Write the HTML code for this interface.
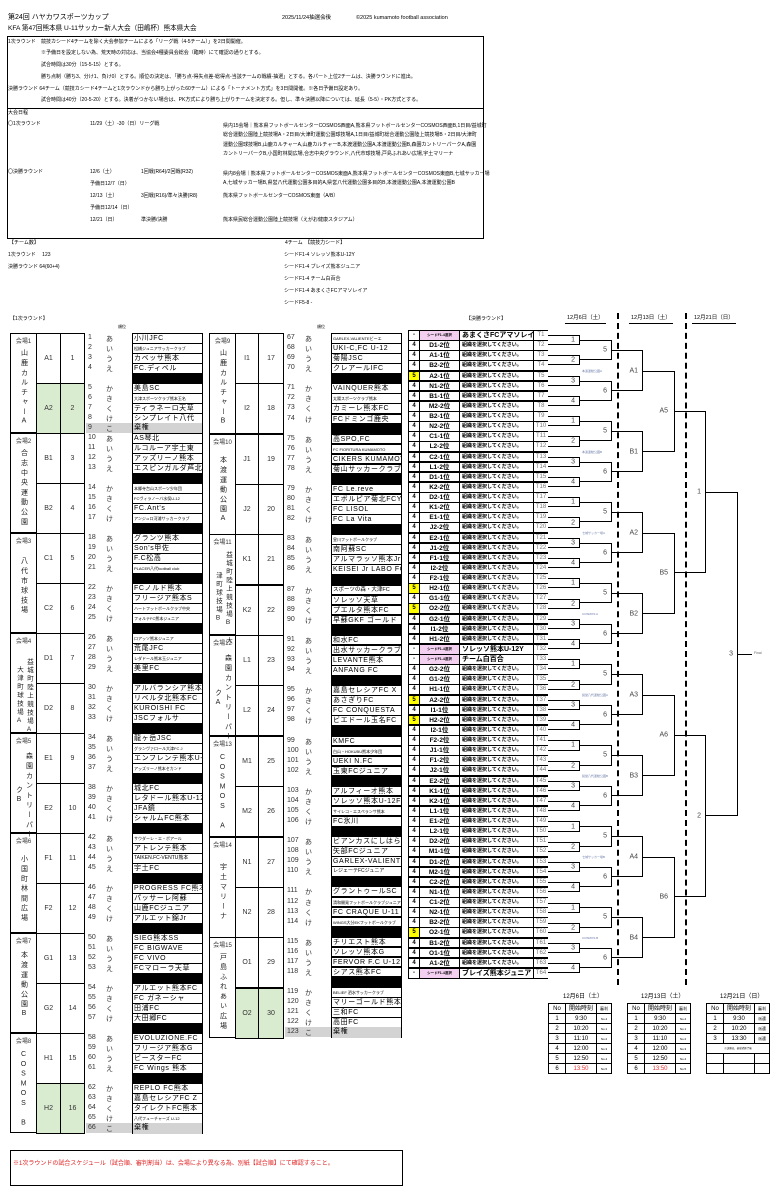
<!DOCTYPE html>
<html><head><meta charset="utf-8">
<style>
*{margin:0;padding:0;box-sizing:border-box}
body{width:782px;height:1197px;position:relative;background:#fff;font-family:"Liberation Sans","Noto Sans CJK JP",sans-serif;color:#000;overflow:hidden}
.a{position:absolute;white-space:nowrap;line-height:1}
.f5{font-size:5px}
.bx{position:absolute;border:1px solid #000}
.col{position:absolute;top:333px;width:205px}
.col>div{position:relative;height:10px}
.c2>div{height:10.07px}
.col b{position:absolute;left:88px;top:1px;font-size:7px;font-weight:normal;color:#333}
.col i{position:absolute;left:106px;top:1px;font-size:7px;font-style:normal;color:#333}
.col span{position:absolute;left:132px;width:71px;top:0;height:10.5px;border:1px solid #000;font-size:7px;line-height:9px;padding-left:1px;white-space:nowrap;overflow:hidden;letter-spacing:.6px;background:#fff}
.col span.s{font-size:4px;letter-spacing:0}
.col div.k span{background:#000}
.col div.g{background:linear-gradient(90deg,transparent 86px,#d3d3d3 86px,#d3d3d3 203px,transparent 203px)}
.col div.g span{background:#d3d3d3;border-top:none;border-bottom:none}
.v{position:absolute;border:1px solid #000;width:27px;text-align:center}
.v .h{font-size:6px;margin-top:2px;color:#333}
.v .n{writing-mode:vertical-rl;text-orientation:upright;font-size:7px;letter-spacing:2.8px;margin:4px auto 0;color:#222}
.gp{position:absolute;border:1px solid #000;display:flex;align-items:center;justify-content:center;font-size:7px;color:#333}
.gr{background:#d9ecd0}
.tt{position:absolute;top:330px;left:408px;width:141px}
.tt>div{position:relative;height:10.13px}
.tt b,.tt u,.tt s,.tt em{position:absolute;top:0;height:10.63px;border:1px solid #000;text-decoration:none;font-style:normal;text-align:center;white-space:nowrap;overflow:hidden}
.tt b{left:0;width:12px;font-size:6px;line-height:9px}
.tt b.y{background:#ffff00}
.tt u{left:11px;width:41px;font-size:6.5px;line-height:9px;font-weight:bold}
.tt u.p{background:#f3cff0;font-size:3.5px}
.tt s{left:51px;width:75px;font-size:5px;line-height:9px;font-weight:bold;text-align:left;padding-left:2px}
.tt s.n{font-size:7px}
.tt em{left:125px;width:15px;font-size:6px;line-height:9px;color:#777;border-right:none}
.bc{position:absolute;top:330px;height:648.3px;display:flex;flex-direction:column}
.bc>div{flex:1;position:relative}
.bc>div>i{position:absolute;left:0;right:0;top:25%;height:50%;border:1px solid #000;border-left:none;font-style:normal}
.bc>div>i>q{position:absolute;right:4px;top:50%;transform:translateY(-50%);font-size:7px;color:#444}
.bc>div>i>q:before,.bc>div>i>q:after{content:""}
.vs{position:absolute;left:-30px;top:50%;font-size:3px;color:#6a7aa8;transform:translateY(-50%)}
.dash{position:absolute;top:313px;height:672px;border-left:2px dashed #000}
table{border-collapse:collapse;position:absolute;font-size:6px}
td{border:1px solid #000;height:10px;text-align:center;padding:0;line-height:8px}
</style></head><body>

<!-- header -->
<div class="a" style="left:8px;top:14px;font-size:7px">第24回 ハヤカワスポーツカップ</div>
<div class="a" style="left:282px;top:16px;font-size:5.5px">2025/11/24抽選会後</div>
<div class="a" style="left:356px;top:16px;font-size:5.5px">©2025 kumamoto football association</div>
<div class="a" style="left:8px;top:26px;font-size:6.6px">KFA 第47回熊本県 U-11サッカー新人大会（田嶋杯）熊本県大会</div>

<div class="bx" style="left:7px;top:36px;width:477px;height:73px"></div>
<div class="bx" style="left:7px;top:108px;width:477px;height:131px"></div>
<div class="a f5" style="left:8px;top:39.5px">1次ラウンド</div>
<div class="a f5" style="left:41px;top:39.5px">競技カシード4チームを除く大会参加チームによる「リーグ戦（4-5チーム）」を2日間開催。</div>
<div class="a f5" style="left:41px;top:51px">※予備日を設定しない為、荒天時の対応は、当協会4種委員会総会（臨時）にて確認の通りとする。</div>
<div class="a f5" style="left:41px;top:62.5px">試合時間は30分（15-5-15）とする。</div>
<div class="a f5" style="left:41px;top:74.5px">勝ち点制（勝ち3、分け1、負け0）とする。順位の決定は、「勝ち点-得失点差-総得点-当該チームの戦績-抽選」とする。各パート上位2チームは、決勝ラウンドに進出。</div>
<div class="a f5" style="left:8px;top:86.5px">決勝ラウンド 64チーム（競技カシード4チームと1次ラウンドから勝ち上がった60チーム）による「トーナメント方式」を3日間開催。※各日予備日設定あり。</div>
<div class="a f5" style="left:41px;top:98px">試合時間は40分（20-5-20）とする。決着がつかない場合は、PK方式により勝ち上がりチームを決定する。但し、準々決勝以降については、延長（5-5）・PK方式とする。</div>

<div class="a f5" style="left:8px;top:110.5px">大会日程</div>
<div class="a f5" style="left:8px;top:122px">〇1次ラウンド</div>
<div class="a f5" style="left:90px;top:122px">11/29（土）-30（日）リーグ戦</div>
<div class="a f5" style="left:223px;top:122px;line-height:9.4px">県内15会場｜熊本県フットボールセンターCOSMOS西面A,熊本県フットボールセンターCOSMOS西面B,1日目/益城町<br>総合運動公園陸上競技場A・2日目/大津町運動公園球技場A,1日目/益城町総合運動公園陸上競技場B・2日目/大津町<br>運動公園球技場B,山鹿カルチャーA,山鹿カルチャーB,本渡運動公園A,本渡運動公園B,森園カントリーパークA,森園<br>カントリーパークB,小国町林間広場,合志中央グラウンド,八代市球技場,戸島ふれあい広場,宇土マリーナ</div>
<div class="a f5" style="left:8px;top:170px">〇決勝ラウンド</div>
<div class="a f5" style="left:90px;top:170px">12/6（土）</div>
<div class="a f5" style="left:141px;top:170px">1回戦(R64)/2回戦(R32)</div>
<div class="a f5" style="left:223px;top:170px;line-height:9.4px">県内8会場｜熊本県フットボールセンターCOSMOS東面A,熊本県フットボールセンターCOSMOS東面B,七城サッカー場<br>A,七城サッカー場B,県営八代運動公園多目的A,県営八代運動公園多目的B,本渡運動公園A,本渡運動公園B</div>
<div class="a f5" style="left:90px;top:182px">予備日12/7（日）</div>
<div class="a f5" style="left:90px;top:194px">12/13（土）</div>
<div class="a f5" style="left:141px;top:194px">3回戦(R16)/準々決勝(R8)</div>
<div class="a f5" style="left:223px;top:194px">熊本県フットボールセンターCOSMOS東面（A/B）</div>
<div class="a f5" style="left:90px;top:206px">予備日12/14（日）</div>
<div class="a f5" style="left:90px;top:218px">12/21（日）</div>
<div class="a f5" style="left:141px;top:218px">準決勝/決勝</div>
<div class="a f5" style="left:223px;top:218px">熊本県民総合運動公園陸上競技場（えがお健康スタジアム）</div>

<div class="a f5" style="left:9px;top:241px">【チーム数】</div>
<div class="a f5" style="left:8px;top:253px">1次ラウンド　 123</div>
<div class="a f5" style="left:8px;top:265px">決勝ラウンド 64(60+4)</div>
<div class="a f5" style="left:285px;top:241px">4チーム　【競技力シード】</div>
<div class="a f5" style="left:284px;top:253px">シードF1-4 ソレッソ熊本U-12Y</div>
<div class="a f5" style="left:284px;top:265px">シードF1-4 ブレイズ熊本ジュニア</div>
<div class="a f5" style="left:284px;top:277px">シードF1-4 チーム白百合</div>
<div class="a f5" style="left:284px;top:289px">シードF1-4 あまくさFCアマソレイア</div>
<div class="a f5" style="left:284px;top:301px">シードF5-8 -</div>

<div class="a f5" style="left:10px;top:317px">【1次ラウンド】</div>
<div class="a" style="left:118px;top:325px;font-size:4px">順位</div>
<div class="a" style="left:317px;top:325px;font-size:4px">順位</div>
<div class="a f5" style="left:466px;top:317px">【決勝ラウンド】</div>
<div class="a" style="left:565px;top:316px;font-size:5.5px;border-bottom:1px solid #000;padding:0 2px 1px">12月6日（土）</div>
<div class="a" style="left:629px;top:316px;font-size:5.5px;border-bottom:1px solid #000;padding:0 2px 1px">12月13日（土）</div>
<div class="a" style="left:692px;top:316px;font-size:5.5px;border-bottom:1px solid #000;padding:0 2px 1px">12月21日（日）</div>

<!-- venue boxes col1 -->
<div class="v" style="left:10px;top:333px;height:100px"><div class="h">会場1</div><div class="n">山鹿カルチャーA</div></div>
<div class="v" style="left:10px;top:433px;height:100px"><div class="h">会場2</div><div class="n">合志中央運動公園</div></div>
<div class="v" style="left:10px;top:533px;height:100px"><div class="h">会場3</div><div class="n" style="margin-top:12px">八代市球技場</div></div>
<div class="v" style="left:10px;top:633px;height:100px"><div class="h">会場4</div><div class="n" style="font-size:6.5px;letter-spacing:2px">益城町陸上競技場A 大津町球技場A</div></div>
<div class="v" style="left:10px;top:733px;height:100px"><div class="h">会場5</div><div class="n">森園カントリーパークB</div></div>
<div class="v" style="left:10px;top:833px;height:100px"><div class="h">会場6</div><div class="n" style="margin-top:10px">小国町林間広場</div></div>
<div class="v" style="left:10px;top:933px;height:100px"><div class="h">会場7</div><div class="n" style="margin-top:6px">本渡運動公園B</div></div>
<div class="v" style="left:10px;top:1033px;height:100px"><div class="h">会場8</div><div class="n" style="margin-top:6px">COSMOS B</div></div>
<!-- groups col1 -->
<div class="gp" style="left:36px;top:333px;width:25px;height:51px">A1</div><div class="gp" style="left:60px;top:333px;width:25px;height:51px">1</div>
<div class="gp gr" style="left:36px;top:383px;width:25px;height:51px">A2</div><div class="gp gr" style="left:60px;top:383px;width:25px;height:51px">2</div>
<div class="gp" style="left:36px;top:433px;width:25px;height:51px">B1</div><div class="gp" style="left:60px;top:433px;width:25px;height:51px">3</div>
<div class="gp" style="left:36px;top:483px;width:25px;height:51px">B2</div><div class="gp" style="left:60px;top:483px;width:25px;height:51px">4</div>
<div class="gp" style="left:36px;top:533px;width:25px;height:51px">C1</div><div class="gp" style="left:60px;top:533px;width:25px;height:51px">5</div>
<div class="gp" style="left:36px;top:583px;width:25px;height:51px">C2</div><div class="gp" style="left:60px;top:583px;width:25px;height:51px">6</div>
<div class="gp" style="left:36px;top:633px;width:25px;height:51px">D1</div><div class="gp" style="left:60px;top:633px;width:25px;height:51px">7</div>
<div class="gp" style="left:36px;top:683px;width:25px;height:51px">D2</div><div class="gp" style="left:60px;top:683px;width:25px;height:51px">8</div>
<div class="gp" style="left:36px;top:733px;width:25px;height:51px">E1</div><div class="gp" style="left:60px;top:733px;width:25px;height:51px">9</div>
<div class="gp" style="left:36px;top:783px;width:25px;height:51px">E2</div><div class="gp" style="left:60px;top:783px;width:25px;height:51px">10</div>
<div class="gp" style="left:36px;top:833px;width:25px;height:51px">F1</div><div class="gp" style="left:60px;top:833px;width:25px;height:51px">11</div>
<div class="gp" style="left:36px;top:883px;width:25px;height:51px">F2</div><div class="gp" style="left:60px;top:883px;width:25px;height:51px">12</div>
<div class="gp" style="left:36px;top:933px;width:25px;height:51px">G1</div><div class="gp" style="left:60px;top:933px;width:25px;height:51px">13</div>
<div class="gp" style="left:36px;top:983px;width:25px;height:51px">G2</div><div class="gp" style="left:60px;top:983px;width:25px;height:51px">14</div>
<div class="gp" style="left:36px;top:1033px;width:25px;height:51px">H1</div><div class="gp" style="left:60px;top:1033px;width:25px;height:51px">15</div>
<div class="gp gr" style="left:36px;top:1083px;width:25px;height:51px">H2</div><div class="gp gr" style="left:60px;top:1083px;width:25px;height:51px">16</div>

<!-- venue boxes col2 -->
<div class="v" style="left:209px;top:333px;height:101px"><div class="h">会場9</div><div class="n">山鹿カルチャーB</div></div>
<div class="v" style="left:209px;top:433.7px;height:101px"><div class="h">会場10</div><div class="n" style="margin-top:10px">本渡運動公園A</div></div>
<div class="v" style="left:209px;top:534.4px;height:101px"><div class="h">会場11</div><div class="n" style="font-size:6.5px;letter-spacing:2px">益城町陸上競技場B 大津町球技場B</div></div>
<div class="v" style="left:209px;top:635.1px;height:101px"><div class="h">会場12</div><div class="n">森園カントリーパークA</div></div>
<div class="v" style="left:209px;top:735.8px;height:101px"><div class="h">会場13</div><div class="n" style="margin-top:6px">COSMOS A</div></div>
<div class="v" style="left:209px;top:836.5px;height:101px"><div class="h">会場14</div><div class="n" style="margin-top:14px">宇土マリーナ</div></div>
<div class="v" style="left:209px;top:937.2px;height:101px"><div class="h">会場15</div><div class="n">戸島ふれあい広場</div></div>
<div class="gp" style="left:235px;top:333px;width:24px;height:51px">I1</div><div class="gp" style="left:258px;top:333px;width:26px;height:51px">17</div>
<div class="gp" style="left:235px;top:383.3px;width:24px;height:51px">I2</div><div class="gp" style="left:258px;top:383.3px;width:26px;height:51px">18</div>
<div class="gp" style="left:235px;top:433.7px;width:24px;height:51px">J1</div><div class="gp" style="left:258px;top:433.7px;width:26px;height:51px">19</div>
<div class="gp" style="left:235px;top:484px;width:24px;height:51px">J2</div><div class="gp" style="left:258px;top:484px;width:26px;height:51px">20</div>
<div class="gp" style="left:235px;top:534.4px;width:24px;height:51px">K1</div><div class="gp" style="left:258px;top:534.4px;width:26px;height:51px">21</div>
<div class="gp" style="left:235px;top:584.7px;width:24px;height:51px">K2</div><div class="gp" style="left:258px;top:584.7px;width:26px;height:51px">22</div>
<div class="gp" style="left:235px;top:635.1px;width:24px;height:51px">L1</div><div class="gp" style="left:258px;top:635.1px;width:26px;height:51px">23</div>
<div class="gp" style="left:235px;top:685.4px;width:24px;height:51px">L2</div><div class="gp" style="left:258px;top:685.4px;width:26px;height:51px">24</div>
<div class="gp" style="left:235px;top:735.8px;width:24px;height:51px">M1</div><div class="gp" style="left:258px;top:735.8px;width:26px;height:51px">25</div>
<div class="gp" style="left:235px;top:786.1px;width:24px;height:51px">M2</div><div class="gp" style="left:258px;top:786.1px;width:26px;height:51px">26</div>
<div class="gp" style="left:235px;top:836.5px;width:24px;height:51px">N1</div><div class="gp" style="left:258px;top:836.5px;width:26px;height:51px">27</div>
<div class="gp" style="left:235px;top:886.8px;width:24px;height:51px">N2</div><div class="gp" style="left:258px;top:886.8px;width:26px;height:51px">28</div>
<div class="gp" style="left:235px;top:937.2px;width:24px;height:51px">O1</div><div class="gp" style="left:258px;top:937.2px;width:26px;height:51px">29</div>
<div class="gp gr" style="left:235px;top:987.5px;width:24px;height:51px">O2</div><div class="gp gr" style="left:258px;top:987.5px;width:26px;height:51px">30</div>

<!-- team list col1 -->
<div class="col" style="left:0">
<div><b>1</b><i>あ</i><span>小川JFC</span></div>
<div><b>2</b><i>い</i><span class="s">松橋ジュニアサッカークラブ</span></div>
<div><b>3</b><i>う</i><span>カベッサ熊本</span></div>
<div><b>4</b><i>え</i><span>FC.ディベル</span></div>
<div class="k"><span></span></div>
<div><b>5</b><i>か</i><span>美島SC</span></div>
<div><b>6</b><i>き</i><span class="s">大津スポーツクラブ熊本玉名</span></div>
<div><b>7</b><i>く</i><span>ティラネーロ天草</span></div>
<div><b>8</b><i>け</i><span>シンプレイト八代</span></div>
<div class="g"><b>9</b><i>こ</i><span>棄権</span></div>
<div><b>10</b><i>あ</i><span>AS琴北</span></div>
<div><b>11</b><i>い</i><span>ルコルーア宇土東</span></div>
<div><b>12</b><i>う</i><span>アッズリーノ熊本</span></div>
<div><b>13</b><i>え</i><span>エスピンガルダ芦北</span></div>
<div class="k"><span></span></div>
<div><b>14</b><i>か</i><span class="s">本郷寺台山スポーツ少年団</span></div>
<div><b>15</b><i>き</i><span class="s">FCヴィラノーバ水俣U-12</span></div>
<div><b>16</b><i>く</i><span>FC.Ant's</span></div>
<div><b>17</b><i>け</i><span class="s">アンジュロ河浦サッカークラブ</span></div>
<div class="k"><span></span></div>
<div><b>18</b><i>あ</i><span>グランツ熊本</span></div>
<div><b>19</b><i>い</i><span>Son's甲佐</span></div>
<div><b>20</b><i>う</i><span>F.C松高</span></div>
<div><b>21</b><i>え</i><span class="s">PLACER八代football club</span></div>
<div class="k"><span></span></div>
<div><b>22</b><i>か</i><span>FCノルド熊本</span></div>
<div><b>23</b><i>き</i><span>フリージア熊本S</span></div>
<div><b>24</b><i>く</i><span class="s">ハートフットボールクラブ中央</span></div>
<div><b>25</b><i>け</i><span class="s">フォルテFC熊本ジュニア</span></div>
<div class="k"><span></span></div>
<div><b>26</b><i>あ</i><span class="s">ロアッソ熊本ジュニア</span></div>
<div><b>27</b><i>い</i><span>荒尾JFC</span></div>
<div><b>28</b><i>う</i><span class="s">レダドール熊本玉ジュニア</span></div>
<div><b>29</b><i>え</i><span>美里FC</span></div>
<div class="k"><span></span></div>
<div><b>30</b><i>か</i><span>アルバランシア熊本</span></div>
<div><b>31</b><i>き</i><span>リベルタ北熊本FC</span></div>
<div><b>32</b><i>く</i><span>KUROISHI FC</span></div>
<div><b>33</b><i>け</i><span>JSCフォルサ</span></div>
<div class="k"><span></span></div>
<div><b>34</b><i>あ</i><span>龍ヶ岳JSC</span></div>
<div><b>35</b><i>い</i><span class="s">グランヴァロール大津FC J</span></div>
<div><b>36</b><i>う</i><span>エンフレンテ熊本U-11</span></div>
<div><b>37</b><i>え</i><span class="s">アッズリーノ熊本セカンド</span></div>
<div class="k"><span></span></div>
<div><b>38</b><i>か</i><span>城北FC</span></div>
<div><b>39</b><i>き</i><span>レタドール熊本U-12</span></div>
<div><b>40</b><i>く</i><span>JFA鏡</span></div>
<div><b>41</b><i>け</i><span>シャルムFC熊本</span></div>
<div class="k"><span></span></div>
<div><b>42</b><i>あ</i><span class="s">サウダーレ・エ・ボアール</span></div>
<div><b>43</b><i>い</i><span>アトレンテ熊本</span></div>
<div><b>44</b><i>う</i><span class="s" style="font-size:5px">TAIKEN.FC-VENTU熊本</span></div>
<div><b>45</b><i>え</i><span>宇土FC</span></div>
<div class="k"><span></span></div>
<div><b>46</b><i>か</i><span>PROGRESS FC熊本</span></div>
<div><b>47</b><i>き</i><span>パッサーレ阿蘇</span></div>
<div><b>48</b><i>く</i><span>山鹿FCジュニア</span></div>
<div><b>49</b><i>け</i><span>アルエット錦Jr</span></div>
<div class="k"><span></span></div>
<div><b>50</b><i>あ</i><span>SIEG熊本SS</span></div>
<div><b>51</b><i>い</i><span>FC BIGWAVE</span></div>
<div><b>52</b><i>う</i><span>FC VIVO</span></div>
<div><b>53</b><i>え</i><span>FCマローラ天草</span></div>
<div class="k"><span></span></div>
<div><b>54</b><i>か</i><span>アルエット熊本FC</span></div>
<div><b>55</b><i>き</i><span>FC ガネーシャ</span></div>
<div><b>56</b><i>く</i><span>田浦FC</span></div>
<div><b>57</b><i>け</i><span>大田郷FC</span></div>
<div class="k"><span></span></div>
<div><b>58</b><i>あ</i><span>EVOLUZIONE.FC</span></div>
<div><b>59</b><i>い</i><span>フリージア熊本G</span></div>
<div><b>60</b><i>う</i><span>ビースターFC</span></div>
<div><b>61</b><i>え</i><span>FC Wings 熊本</span></div>
<div class="k"><span></span></div>
<div><b>62</b><i>か</i><span>REPLO FC熊本</span></div>
<div><b>63</b><i>き</i><span>嘉島セレシアFC Z</span></div>
<div><b>64</b><i>く</i><span>タイレクトFC熊本</span></div>
<div><b>65</b><i>け</i><span class="s">八代フューチャーズ U-12</span></div>
<div class="g"><b>66</b><i>こ</i><span>棄権</span></div>
</div>

<!-- team list col2 -->
<div class="col c2" style="left:199px">
<div><b>67</b><i>あ</i><span class="s">GARLEX-VALIENTEビーエ</span></div>
<div><b>68</b><i>い</i><span>UKI-C,FC U-12</span></div>
<div><b>69</b><i>う</i><span>菊陽JSC</span></div>
<div><b>70</b><i>え</i><span>クレアールIFC</span></div>
<div class="k"><span></span></div>
<div><b>71</b><i>か</i><span>VAINQUER熊本</span></div>
<div><b>72</b><i>き</i><span class="s">太陽スポーツクラブ熊本</span></div>
<div><b>73</b><i>く</i><span>カミーレ熊本FC</span></div>
<div><b>74</b><i>け</i><span>FCドミンゴ鹿央</span></div>
<div class="k"><span></span></div>
<div><b>75</b><i>あ</i><span>高SPO,FC</span></div>
<div><b>76</b><i>い</i><span class="s">FC FIORITURA KUMAMOTO</span></div>
<div><b>77</b><i>う</i><span>CIKERS KUMAMOTO</span></div>
<div><b>78</b><i>え</i><span>菊山サッカークラブ</span></div>
<div class="k"><span></span></div>
<div><b>79</b><i>か</i><span>FC Le.reve</span></div>
<div><b>80</b><i>き</i><span>エボルピア菊北FCY</span></div>
<div><b>81</b><i>く</i><span>FC LISOL</span></div>
<div><b>82</b><i>け</i><span>FC La Vita</span></div>
<div class="k"><span></span></div>
<div><b>83</b><i>あ</i><span class="s">皇川フットボールクラブ</span></div>
<div><b>84</b><i>い</i><span>南阿蘇SC</span></div>
<div><b>85</b><i>う</i><span>アルマラッソ熊本Jr</span></div>
<div><b>86</b><i>え</i><span>KEISEI Jr LABO FC</span></div>
<div class="k"><span></span></div>
<div><b>87</b><i>か</i><span style="font-size:5.5px;letter-spacing:0">スポーツの森・大津FC</span></div>
<div><b>88</b><i>き</i><span>ソレッソ天草</span></div>
<div><b>89</b><i>く</i><span>プエルタ熊本FC</span></div>
<div><b>90</b><i>け</i><span>早蘇GKF ゴールド</span></div>
<div class="k"><span></span></div>
<div><b>91</b><i>あ</i><span>和水FC</span></div>
<div><b>92</b><i>い</i><span>出水サッカークラブ</span></div>
<div><b>93</b><i>う</i><span>LEVANTE熊本</span></div>
<div><b>94</b><i>え</i><span>ANFANG FC</span></div>
<div class="k"><span></span></div>
<div><b>95</b><i>か</i><span>嘉島セレシアFC X</span></div>
<div><b>96</b><i>き</i><span>あさぎりFC</span></div>
<div><b>97</b><i>く</i><span>FC CONQUESTA</span></div>
<div><b>98</b><i>け</i><span>ビエドール玉名FC</span></div>
<div class="k"><span></span></div>
<div><b>99</b><i>あ</i><span>KMFC</span></div>
<div><b>100</b><i>い</i><span class="s">白山・HOKUBU熊本少年団</span></div>
<div><b>101</b><i>う</i><span>UEKI N.FC</span></div>
<div><b>102</b><i>え</i><span>玉東FCジュニア</span></div>
<div class="k"><span></span></div>
<div><b>103</b><i>か</i><span>アルフィーオ熊本</span></div>
<div><b>104</b><i>き</i><span>ソレッソ熊本U-12F</span></div>
<div><b>105</b><i>く</i><span class="s">サイレコ・エスペランサ熊本</span></div>
<div><b>106</b><i>け</i><span>FC氷川</span></div>
<div class="k"><span></span></div>
<div><b>107</b><i>あ</i><span>ビアンカスにしはら</span></div>
<div><b>108</b><i>い</i><span>矢部FCジュニア</span></div>
<div><b>109</b><i>う</i><span>GARLEX-VALIENTE</span></div>
<div><b>110</b><i>え</i><span class="s" style="font-size:5px">レジェーテFCジュニア</span></div>
<div class="k"><span></span></div>
<div><b>111</b><i>か</i><span>グラントゥールSC</span></div>
<div><b>112</b><i>き</i><span class="s">清和開発フットボールクラブジュニア</span></div>
<div><b>113</b><i>く</i><span>FC CRAQUE U-11</span></div>
<div><b>114</b><i>け</i><span class="s">WINGS大分EKフットボールクラブ</span></div>
<div class="k"><span></span></div>
<div><b>115</b><i>あ</i><span>チリエスト熊本</span></div>
<div><b>116</b><i>い</i><span>ソレッソ熊本G</span></div>
<div><b>117</b><i>う</i><span>FERVOR F.C U-12</span></div>
<div><b>118</b><i>え</i><span>シアス熊本FC</span></div>
<div class="k"><span></span></div>
<div><b>119</b><i>か</i><span class="s">BELIEF 泗水サッカークラブ</span></div>
<div><b>120</b><i>き</i><span>マリーゴールド熊本</span></div>
<div><b>121</b><i>く</i><span>三和FC</span></div>
<div><b>122</b><i>け</i><span>高田FC</span></div>
<div class="g"><b>123</b><i>こ</i><span>棄権</span></div>
</div>

<!-- tournament table -->
<div class="tt">
<div><b>-</b><u class="p">シードF1-4選択</u><s class="n">あまくさFCアマソレイア</s><em>T1</em></div>
<div><b>4</b><u>D1-2位</u><s>組織を選択してください。</s><em>T2</em></div>
<div><b>4</b><u>A1-1位</u><s>組織を選択してください。</s><em>T3</em></div>
<div><b>4</b><u>B2-2位</u><s>組織を選択してください。</s><em>T4</em></div>
<div><b class="y">5</b><u>A2-1位</u><s>組織を選択してください。</s><em>T5</em></div>
<div><b>4</b><u>N1-2位</u><s>組織を選択してください。</s><em>T6</em></div>
<div><b>4</b><u>B1-1位</u><s>組織を選択してください。</s><em>T7</em></div>
<div><b>4</b><u>M2-2位</u><s>組織を選択してください。</s><em>T8</em></div>
<div><b>4</b><u>B2-1位</u><s>組織を選択してください。</s><em>T9</em></div>
<div><b>4</b><u>N2-2位</u><s>組織を選択してください。</s><em>T10</em></div>
<div><b>4</b><u>C1-1位</u><s>組織を選択してください。</s><em>T11</em></div>
<div><b>4</b><u>L2-2位</u><s>組織を選択してください。</s><em>T12</em></div>
<div><b>4</b><u>C2-1位</u><s>組織を選択してください。</s><em>T13</em></div>
<div><b>4</b><u>L1-2位</u><s>組織を選択してください。</s><em>T14</em></div>
<div><b>4</b><u>D1-1位</u><s>組織を選択してください。</s><em>T15</em></div>
<div><b>4</b><u>K2-2位</u><s>組織を選択してください。</s><em>T16</em></div>
<div><b>4</b><u>D2-1位</u><s>組織を選択してください。</s><em>T17</em></div>
<div><b>4</b><u>K1-2位</u><s>組織を選択してください。</s><em>T18</em></div>
<div><b>4</b><u>E1-1位</u><s>組織を選択してください。</s><em>T19</em></div>
<div><b>4</b><u>J2-2位</u><s>組織を選択してください。</s><em>T20</em></div>
<div><b>4</b><u>E2-1位</u><s>組織を選択してください。</s><em>T21</em></div>
<div><b>4</b><u>J1-2位</u><s>組織を選択してください。</s><em>T22</em></div>
<div><b>4</b><u>F1-1位</u><s>組織を選択してください。</s><em>T23</em></div>
<div><b>4</b><u>I2-2位</u><s>組織を選択してください。</s><em>T24</em></div>
<div><b>4</b><u>F2-1位</u><s>組織を選択してください。</s><em>T25</em></div>
<div><b class="y">5</b><u>H2-1位</u><s>組織を選択してください。</s><em>T26</em></div>
<div><b>4</b><u>G1-1位</u><s>組織を選択してください。</s><em>T27</em></div>
<div><b class="y">5</b><u>O2-2位</u><s>組織を選択してください。</s><em>T28</em></div>
<div><b>4</b><u>G2-1位</u><s>組織を選択してください。</s><em>T29</em></div>
<div><b>4</b><u>I1-2位</u><s>組織を選択してください。</s><em>T30</em></div>
<div><b>4</b><u>H1-2位</u><s>組織を選択してください。</s><em>T31</em></div>
<div><b>-</b><u class="p">シードF1-4選択</u><s class="n">ソレッソ熊本U-12Y</s><em>T32</em></div>
<div><b>-</b><u class="p">シードF1-4選択</u><s class="n">チーム白百合</s><em>T33</em></div>
<div><b>4</b><u>G2-2位</u><s>組織を選択してください。</s><em>T34</em></div>
<div><b>4</b><u>G1-2位</u><s>組織を選択してください。</s><em>T35</em></div>
<div><b>4</b><u>H1-1位</u><s>組織を選択してください。</s><em>T36</em></div>
<div><b class="y">5</b><u>A2-2位</u><s>組織を選択してください。</s><em>T37</em></div>
<div><b>4</b><u>I1-1位</u><s>組織を選択してください。</s><em>T38</em></div>
<div><b class="y">5</b><u>H2-2位</u><s>組織を選択してください。</s><em>T39</em></div>
<div><b>4</b><u>I2-1位</u><s>組織を選択してください。</s><em>T40</em></div>
<div><b>4</b><u>F2-2位</u><s>組織を選択してください。</s><em>T41</em></div>
<div><b>4</b><u>J1-1位</u><s>組織を選択してください。</s><em>T42</em></div>
<div><b>4</b><u>F1-2位</u><s>組織を選択してください。</s><em>T43</em></div>
<div><b>4</b><u>J2-1位</u><s>組織を選択してください。</s><em>T44</em></div>
<div><b>4</b><u>E2-2位</u><s>組織を選択してください。</s><em>T45</em></div>
<div><b>4</b><u>K1-1位</u><s>組織を選択してください。</s><em>T46</em></div>
<div><b>4</b><u>K2-1位</u><s>組織を選択してください。</s><em>T47</em></div>
<div><b>4</b><u>L1-1位</u><s>組織を選択してください。</s><em>T48</em></div>
<div><b>4</b><u>E1-2位</u><s>組織を選択してください。</s><em>T49</em></div>
<div><b>4</b><u>L2-1位</u><s>組織を選択してください。</s><em>T50</em></div>
<div><b>4</b><u>D2-2位</u><s>組織を選択してください。</s><em>T51</em></div>
<div><b>4</b><u>M1-1位</u><s>組織を選択してください。</s><em>T52</em></div>
<div><b>4</b><u>D1-2位</u><s>組織を選択してください。</s><em>T53</em></div>
<div><b>4</b><u>M2-1位</u><s>組織を選択してください。</s><em>T54</em></div>
<div><b>4</b><u>C2-2位</u><s>組織を選択してください。</s><em>T55</em></div>
<div><b>4</b><u>N1-1位</u><s>組織を選択してください。</s><em>T56</em></div>
<div><b>4</b><u>C1-2位</u><s>組織を選択してください。</s><em>T57</em></div>
<div><b>4</b><u>N2-1位</u><s>組織を選択してください。</s><em>T58</em></div>
<div><b>4</b><u>B2-2位</u><s>組織を選択してください。</s><em>T59</em></div>
<div><b class="y">5</b><u>O2-1位</u><s>組織を選択してください。</s><em>T60</em></div>
<div><b>4</b><u>B1-2位</u><s>組織を選択してください。</s><em>T61</em></div>
<div><b>4</b><u>O1-1位</u><s>組織を選択してください。</s><em>T62</em></div>
<div><b>4</b><u>A1-2位</u><s>組織を選択してください。</s><em>T63</em></div>
<div><b>-</b><u class="p">シードF1-4選択</u><s class="n">ブレイズ熊本ジュニア</s><em>T64</em></div>
</div>

<!-- brackets -->
<div class="dash" style="left:617px"></div>
<div class="dash" style="left:685px"></div>

<div class="bc" style="left:548px;width:32px">
<div><i><q>1</q></i></div><div><i><q>2</q></i></div><div><i><q>3</q></i></div><div><i><q>4</q></i></div>
<div><i><q>1</q></i></div><div><i><q>2</q></i></div><div><i><q>3</q></i></div><div><i><q>4</q></i></div>
<div><i><q>1</q></i></div><div><i><q>2</q></i></div><div><i><q>3</q></i></div><div><i><q>4</q></i></div>
<div><i><q>1</q></i></div><div><i><q>2</q></i></div><div><i><q>3</q></i></div><div><i><q>4</q></i></div>
<div><i><q>1</q></i></div><div><i><q>2</q></i></div><div><i><q>3</q></i></div><div><i><q>4</q></i></div>
<div><i><q>1</q></i></div><div><i><q>2</q></i></div><div><i><q>3</q></i></div><div><i><q>4</q></i></div>
<div><i><q>1</q></i></div><div><i><q>2</q></i></div><div><i><q>3</q></i></div><div><i><q>4</q></i></div>
<div><i><q>1</q></i></div><div><i><q>2</q></i></div><div><i><q>3</q></i></div><div><i><q>4</q></i></div>
</div>
<div class="bc" style="left:580px;width:32px">
<div><i><q>5</q></i></div><div><i><q>6</q></i></div><div><i><q>5</q></i></div><div><i><q>6</q></i></div>
<div><i><q>5</q></i></div><div><i><q>6</q></i></div><div><i><q>5</q></i></div><div><i><q>6</q></i></div>
<div><i><q>5</q></i></div><div><i><q>6</q></i></div><div><i><q>5</q></i></div><div><i><q>6</q></i></div>
<div><i><q>5</q></i></div><div><i><q>6</q></i></div><div><i><q>5</q></i></div><div><i><q>6</q></i></div>
</div>
<div class="bc" style="left:612px;width:31px">
<div><span class="vs">本渡運動公園A</span><i><q>A1</q></i></div>
<div><span class="vs">本渡運動公園B</span><i><q>B1</q></i></div>
<div><span class="vs">七城サッカー場A</span><i><q>A2</q></i></div>
<div><span class="vs">COSMOS A</span><i><q>B2</q></i></div>
<div><span class="vs">県営八代運動公園A</span><i><q>A3</q></i></div>
<div><span class="vs">県営八代運動公園B</span><i><q>B3</q></i></div>
<div><span class="vs">七城サッカー場B</span><i><q>A4</q></i></div>
<div><span class="vs">COSMOS B</span><i><q>B4</q></i></div>
</div>
<div class="bc" style="left:643px;width:32px">
<div><i><q style="right:6px">A5</q></i></div><div><i><q style="right:6px">B5</q></i></div><div><i><q style="right:6px">A6</q></i></div><div><i><q style="right:6px">B6</q></i></div>
</div>
<div class="bc" style="left:675px;width:31px">
<div><i><q>1</q></i></div><div><i><q>2</q></i></div>
</div>
<div class="bc" style="left:706px;width:32px">
<div><i><q>3</q></i></div>
</div>
<div class="a" style="left:738px;top:654px;width:14px;border-top:1px solid #000"></div>
<div class="a" style="left:754px;top:652px;font-size:3.5px;color:#666">Final</div>

<!-- schedule tables -->
<div class="a" style="left:563px;top:994px;font-size:6px">12月6日（土）</div>
<table style="left:548px;top:1003px;width:64px">
<tr><td style="width:17px">No</td><td>開始時刻</td><td style="width:15px;font-size:4px">審判</td></tr>
<tr><td>1</td><td>9:30</td><td style="font-size:3px">No.4</td></tr>
<tr><td>2</td><td>10:20</td><td style="font-size:3px">No.1</td></tr>
<tr><td>3</td><td>11:10</td><td style="font-size:3px">No.2</td></tr>
<tr><td>4</td><td>12:00</td><td style="font-size:3px">No.3</td></tr>
<tr><td>5</td><td>12:50</td><td style="font-size:3px">No.4</td></tr>
<tr><td>6</td><td style="color:#e33">13:50</td><td style="font-size:3px">No.5</td></tr>
</table>
<div class="a" style="left:641px;top:994px;font-size:6px">12月13日（土）</div>
<table style="left:627px;top:1003px;width:64px">
<tr><td style="width:17px">No</td><td>開始時刻</td><td style="width:15px;font-size:4px">審判</td></tr>
<tr><td>1</td><td>9:30</td><td style="font-size:3px">No.4</td></tr>
<tr><td>2</td><td>10:20</td><td style="font-size:3px">No.1</td></tr>
<tr><td>3</td><td>11:10</td><td style="font-size:3px">No.2</td></tr>
<tr><td>4</td><td>12:00</td><td style="font-size:3px">No.3</td></tr>
<tr><td>5</td><td>12:50</td><td style="font-size:3px">No.4</td></tr>
<tr><td>6</td><td style="color:#e33">13:50</td><td style="font-size:3px">No.5</td></tr>
</table>
<div class="a" style="left:720px;top:994px;font-size:6px">12月21日（日）</div>
<table style="left:706px;top:1003px;width:64px">
<tr><td style="width:17px">No</td><td>開始時刻</td><td style="width:15px;font-size:4px">審判</td></tr>
<tr><td>1</td><td>9:30</td><td style="font-size:4px">派遣</td></tr>
<tr><td>2</td><td>10:20</td><td style="font-size:4px">派遣</td></tr>
<tr><td>3</td><td>13:30</td><td style="font-size:4px">派遣</td></tr>
<tr><td colspan="3" style="font-size:2.5px">※決勝は、表彰式終了後</td></tr>
<tr><td></td><td></td><td></td></tr>
<tr><td></td><td></td><td></td></tr>
</table>

<!-- note -->
<div class="bx" style="left:10px;top:1150px;width:393px;height:36px"></div>
<div class="a" style="left:13px;top:1159px;font-size:6px;color:#e02020;line-height:10px;white-space:normal;width:385px">※1次ラウンドの試合スケジュール（試合順、審判割当）は、会場により異なる為、別紙【試合順】にて確認すること。</div>

</body></html>
